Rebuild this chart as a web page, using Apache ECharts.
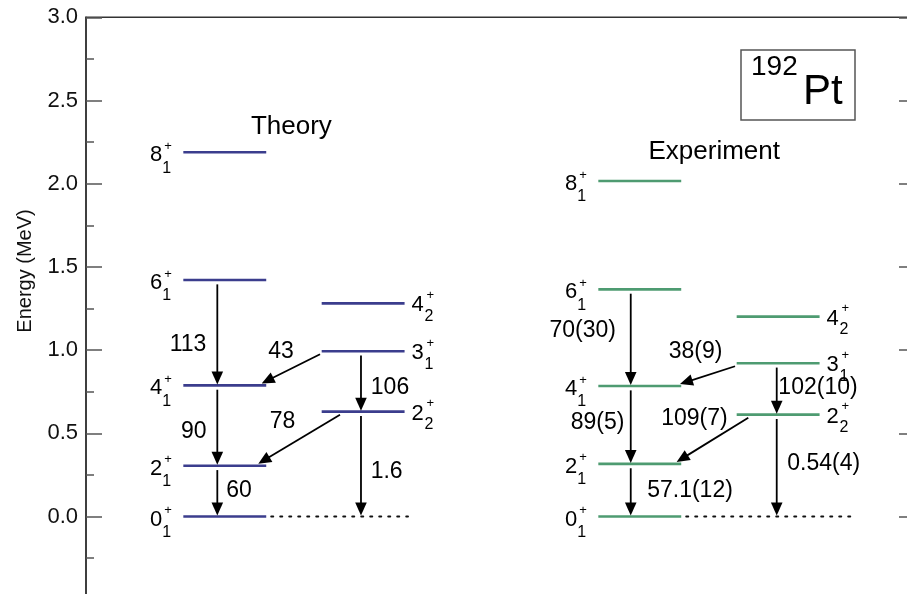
<!DOCTYPE html>
<html>
<head>
<meta charset="utf-8">
<script src="https://cdn.jsdelivr.net/npm/echarts@6/dist/echarts.min.js"></script>
<style>
  html, body { margin: 0; padding: 0; background: #fff; }
  #chart { width: 907px; height: 594px; }
</style>
</head>
<body>
<div id="chart"></div>
<script>
// Low-lying positive-parity levels of 192Pt (energies in MeV)
const levelKeys   = ['8_1', '6_1', '4_1', '2_1', '0_1', '4_2', '3_1', '2_2'];
const levelSpins  = ['8', '6', '4', '2', '0', '4', '3', '2'];
const levelIndex  = ['1', '1', '1', '1', '1', '2', '1', '2'];
const levelBand   = ['gsb', 'gsb', 'gsb', 'gsb', 'gsb', 'gamma', 'gamma', 'gamma'];
const theoryEnergy     = [2.189, 1.421, 0.788, 0.305, 0.000, 1.281, 0.993, 0.630];
const experimentEnergy = [2.016, 1.365, 0.784, 0.316, 0.000, 1.201, 0.921, 0.612];

// E2 transitions with B(E2) values in W.u.
const transFrom = ['6_1', '4_1', '2_1', '3_1', '3_1', '2_2', '2_2'];
const transTo   = ['4_1', '2_1', '0_1', '4_1', '2_2', '2_1', '0_1'];
const theoryBE2     = ['113', '90', '60', '43', '106', '78', '1.6'];
const experimentBE2 = ['70(30)', '89(5)', '57.1(12)', '38(9)', '102(10)', '109(7)', '0.54(4)'];

// Energy axis ticks (MeV)
const energyTicks = [-0.5, 0.0, 0.5, 1.0, 1.5, 2.0, 2.5, 3.0];

const panelTitles = ['Theory', 'Experiment'];
const panelEnergies = [theoryEnergy, experimentEnergy];
const panelLabels = [theoryBE2, experimentBE2];

// ---- layout (horizontal unit = one level bar) ----
const FONT = '"Liberation Sans", Arial, Helvetica, sans-serif';
const BAR_W = 1.0;
const layout = [
  {
    color: '#3b3d8d',
    bandX: { gsb: 1.174, gamma: 2.843 },
    arrowX: { gsb: 1.584, gamma: 3.317 },
    dotEnd: 3.884,
    title: [2.477, 2.344],
    diag: { '3_1>4_1': [2.823, 2.119], '2_2>2_1': [3.064, 2.078] },
    labelPos: [[1.230, 1.031], [1.299, 0.508], [1.846, 0.153], [2.352, 0.989],
               [3.667, 0.772], [2.370, 0.570], [3.627, 0.269]]
  },
  {
    color: '#4e9b71',
    bandX: { gsb: 6.180, gamma: 7.849 },
    arrowX: { gsb: 6.571, gamma: 8.332 },
    dotEnd: 9.297,
    title: [7.578, 2.193],
    diag: { '3_1>4_1': [7.829, 7.165], '2_2>2_1': [7.989, 7.125] },
    labelPos: [[5.992, 1.115], [6.170, 0.565], [7.286, 0.153], [7.352, 0.990],
               [8.830, 0.772], [7.340, 0.586], [8.899, 0.316]]
  }
];

function txt(text, x, y, size, align) {
  return {
    type: 'text',
    style: { text: text, x: x, y: y, fontSize: size, fontFamily: FONT, fill: '#000',
             align: align, verticalAlign: 'middle' }
  };
}

// level bars
const levelRows = [];
panelEnergies.forEach((energies, p) => {
  levelKeys.forEach((k, i) => {
    const x0 = layout[p].bandX[levelBand[i]];
    levelRows.push([x0, x0 + BAR_W, energies[i], p, i]);
  });
});

// dotted ground-state continuation
const groundRows = layout.map((l, p) => [l.bandX.gsb + BAR_W, l.dotEnd, panelEnergies[p][levelKeys.indexOf('0_1')]]);

// transition arrows
const transRows = [];
panelEnergies.forEach((energies, p) => {
  transFrom.forEach((f, t) => {
    const fi = levelKeys.indexOf(f), ti = levelKeys.indexOf(transTo[t]);
    const ef = energies[fi], et = energies[ti];
    const key = f + '>' + transTo[t];
    const lp = layout[p].labelPos[t];
    if (layout[p].diag[key]) {
      const d = layout[p].diag[key];
      transRows.push([d[0], ef - 0.018, d[1], et + 0.012, lp[0], lp[1], p, t]);
    } else {
      const x = layout[p].arrowX[levelBand[fi]];
      transRows.push([x, ef - 0.026, x, et + 0.006, lp[0], lp[1], p, t]);
    }
  });
});

const titleRows = layout.map((l, p) => [l.title[0], l.title[1], p]);

function renderLevel(params, api) {
  const e = api.value(2), p = api.value(3), li = api.value(4);
  const a = api.coord([api.value(0), e]);
  const b = api.coord([api.value(1), e]);
  const y = a[1];
  const children = [{
    type: 'line',
    shape: { x1: a[0], y1: y, x2: b[0], y2: y },
    style: { stroke: layout[p].color, lineWidth: 2.6 }
  }];
  if (levelBand[li] === 'gsb') {
    children.push(txt(levelSpins[li], a[0] - 21, y + 3, 22, 'right'));
    children.push(txt('+', a[0] - 19, y - 6, 13, 'left'));
    children.push(txt(levelIndex[li], a[0] - 21, y + 16, 16, 'left'));
  } else {
    children.push(txt(levelSpins[li], b[0] + 7, y + 2, 22, 'left'));
    children.push(txt('+', b[0] + 22, y - 8, 13, 'left'));
    children.push(txt(levelIndex[li], b[0] + 20, y + 13, 16, 'left'));
  }
  return { type: 'group', children: children };
}

function renderGround(params, api) {
  const a = api.coord([api.value(0), api.value(2)]);
  const b = api.coord([api.value(1), api.value(2)]);
  return {
    type: 'line',
    shape: { x1: a[0] + 5, y1: a[1], x2: b[0], y2: b[1] },
    style: { stroke: '#111', lineWidth: 2, lineDash: [2, 7], lineCap: 'round' }
  };
}

function renderTransition(params, api) {
  const s = api.coord([api.value(0), api.value(1)]);
  const t = api.coord([api.value(2), api.value(3)]);
  const lab = api.coord([api.value(4), api.value(5)]);
  const p = api.value(6), ti = api.value(7);
  const dx = t[0] - s[0], dy = t[1] - s[1];
  const len = Math.hypot(dx, dy);
  const ux = dx / len, uy = dy / len;
  const hl = 13, hw = 5.8;
  const bx = t[0] - ux * hl, by = t[1] - uy * hl;
  return {
    type: 'group',
    children: [
      { type: 'line', shape: { x1: s[0], y1: s[1], x2: bx + ux, y2: by + uy },
        style: { stroke: '#000', lineWidth: 1.8 } },
      { type: 'polygon',
        shape: { points: [[t[0], t[1]], [bx - uy * hw, by + ux * hw], [bx + uy * hw, by - ux * hw]] },
        style: { fill: '#000' } },
      txt(panelLabels[p][ti], lab[0], lab[1], 23, 'center')
    ]
  };
}

function renderTitle(params, api) {
  const c = api.coord([api.value(0), api.value(1)]);
  return txt(panelTitles[api.value(2)], c[0], c[1], 26, 'center');
}

const tickMin = energyTicks[0];
const tickMax = energyTicks[energyTicks.length - 1];
const tickStep = energyTicks[1] - energyTicks[0];

function energyAxis(position, showLabels) {
  return {
    type: 'value',
    position: position,
    min: tickMin,
    max: tickMax,
    interval: tickStep,
    axisLine: { show: showLabels, lineStyle: { color: '#333', width: 1.5 } },
    axisTick: { show: true, inside: true, length: 16, lineStyle: { color: '#555', width: 1.5 } },
    minorTick: { show: true, splitNumber: 2, length: 8, lineStyle: { color: '#555', width: 1.5 } },
    axisLabel: {
      show: showLabels, margin: 8, fontSize: 22, fontFamily: FONT, color: '#111',
      showMinLabel: false,
      formatter: v => v.toFixed(1)
    },
    splitLine: { show: false }
  };
}

const chart = echarts.init(document.getElementById('chart'), null, { renderer: 'canvas' });
chart.setOption({
  animation: false,
  backgroundColor: '#fff',
  grid: { left: 86, top: 17.3, width: 829, height: 582.4, show: true,
          outerBoundsMode: 'none', containLabel: false,
          borderColor: '#333', borderWidth: 1.5, backgroundColor: 'transparent' },
  xAxis: { type: 'value', min: 0, max: 10, show: false },
  yAxis: [energyAxis('left', true), energyAxis('right', false)],
  graphic: [
    {
      type: 'text', x: 25, y: 271, rotation: Math.PI / 2,
      style: { text: 'Energy (MeV)', fontSize: 20, fontFamily: FONT, fill: '#111',
               align: 'center', verticalAlign: 'middle' }
    },
    {
      type: 'group', x: 741, y: 50,
      children: [
        { type: 'rect', shape: { x: 0, y: 0, width: 114, height: 70 },
          style: { fill: '#fff', stroke: '#555', lineWidth: 1.5 } },
        { type: 'text', x: 10, y: 17,
          style: { text: '192', fontSize: 28, fontFamily: FONT, fill: '#000', verticalAlign: 'middle' } },
        { type: 'text', x: 62, y: 42,
          style: { text: 'Pt', fontSize: 42, fontFamily: FONT, fill: '#000', verticalAlign: 'middle' } }
      ]
    }
  ],
  series: [
    { type: 'custom', name: 'ground', coordinateSystem: 'cartesian2d', renderItem: renderGround,
      data: groundRows, encode: { x: [0, 1], y: 2 }, clip: false, silent: true },
    { type: 'custom', name: 'levels', coordinateSystem: 'cartesian2d', renderItem: renderLevel,
      data: levelRows, encode: { x: [0, 1], y: 2 }, clip: false, silent: true },
    { type: 'custom', name: 'transitions', coordinateSystem: 'cartesian2d', renderItem: renderTransition,
      data: transRows, encode: { x: [0, 2, 4], y: [1, 3, 5] }, clip: false, silent: true, z: 3 },
    { type: 'custom', name: 'titles', coordinateSystem: 'cartesian2d', renderItem: renderTitle,
      data: titleRows, encode: { x: 0, y: 1 }, clip: false, silent: true }
  ]
});
</script>
</body>
</html>
